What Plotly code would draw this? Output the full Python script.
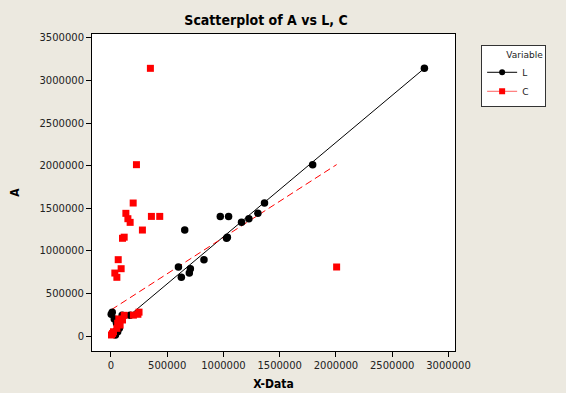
import numpy as np
import plotly.graph_objects as go

# Observations: response A with predictors L and C
A_vals = [3142000, 2011000, 1561000, 1440000, 1377000, 1334000, 1404000, 1404000,
          1244000, 1147000, 1160000, 896000, 810000, 790000, 739000, 689000,
          280000, 255000, 245000, 243000, 188000, 129000, 90000, 50000, 12000,
          30000, 150000, 200000]
L_vals = [2786000, 1793000, 1365000, 1306000, 1226000, 1161000, 972000, 1046000,
          656000, 1028000, 1035000, 827000, 600000, 706000, 697000, 626000,
          12000, 3000, 170000, 100000, 60000, 70000, 75000, 60000, 40000,
          20000, 50000, 30000]
C_vals = [351000, 227000, 198000, 133000, 151000, 171000, 360000, 434000,
          280000, 103000, 118000, 65000, 2006000, 91000, 35000, 53000,
          250000, 240000, 200000, 118000, 103000, 82000, 53000, 23000, 5000,
          15000, 60000, 70000]

# Fitted lines as drawn in the chart (intercept, slope)
L_fit = [59000, 1.1066]
C_fit = [305000, 0.851]

x_ticks = [0, 500000, 1000000, 1500000, 2000000, 2500000, 3000000]
y_ticks = [0, 500000, 1000000, 1500000, 2000000, 2500000, 3000000, 3500000]

A = np.array(A_vals, float)
L = np.array(L_vals, float)
C = np.array(C_vals, float)

def line_over(x, coef):
    xs = np.array([x.min(), x.max()])
    return xs, coef[0] + coef[1] * xs

fig = go.Figure()
lx, ly = line_over(L, L_fit)
cx, cy = line_over(C, C_fit)
fig.add_trace(go.Scatter(x=lx, y=ly, mode="lines", line=dict(color="black", width=1),
                         showlegend=False, hoverinfo="skip"))
fig.add_trace(go.Scatter(x=cx, y=cy, mode="lines",
                         line=dict(color="#FF0000", width=1, dash="7px,4px"),
                         showlegend=False, hoverinfo="skip"))
fig.add_trace(go.Scatter(x=L, y=A, mode="markers", name="L",
                         marker=dict(symbol="circle", size=7.5, color="black"),
                         showlegend=False))
fig.add_trace(go.Scatter(x=C, y=A, mode="markers", name="C",
                         marker=dict(symbol="square", size=7, color="#FF0000"),
                         showlegend=False))
# legend entries (line + marker); trailing spaces widen the legend box
pad = "&nbsp;" * 4
fig.add_trace(go.Scatter(x=[None], y=[None], mode="lines+markers", name="L" + pad,
                         line=dict(color="black", width=1),
                         marker=dict(symbol="circle", size=6, color="black")))
fig.add_trace(go.Scatter(x=[None], y=[None], mode="lines+markers", name="C" + pad,
                         line=dict(color="#FF6060", width=1),
                         marker=dict(symbol="square", size=6, color="#FF0000")))

bg = "#ECE9E0"
fig.update_layout(
    width=566, height=393,
    paper_bgcolor=bg, plot_bgcolor="white",
    margin=dict(l=92, r=111, t=34, b=42),
    font=dict(family="DejaVu Sans", size=10, color="#222"),
    title=dict(text="<b>Scatterplot of A vs L, C</b>", x=0.47, xanchor="center",
               y=0.949, yanchor="middle",
               font=dict(family="DejaVu Sans Condensed, DejaVu Sans", size=14, color="black")),
    xaxis=dict(range=[-168000, 3058000], tickvals=x_ticks, ticktext=[str(v) for v in x_ticks],
               showgrid=False, zeroline=False, showline=True, linecolor="black", linewidth=1,
               mirror=True, ticks="outside", ticklen=5, tickcolor="black", automargin=False,
               title=dict(text="<b>X-Data</b>", standoff=9,
                          font=dict(family="DejaVu Sans Condensed, DejaVu Sans", size=12, color="black"))),
    yaxis=dict(range=[-176000, 3545000], tickvals=y_ticks, ticktext=[str(v) for v in y_ticks],
               showgrid=False, zeroline=False, showline=True, linecolor="black", linewidth=1,
               mirror=True, ticks="outside", ticklen=5, tickcolor="black", automargin=False,
               title=dict(text="<b>A</b>", standoff=17,
                          font=dict(family="DejaVu Sans Condensed, DejaVu Sans", size=12, color="black"))),
    legend=dict(x=1.072, y=0.965, xanchor="left", yanchor="top",
                bgcolor="white", bordercolor="#333", borderwidth=1,
                title=dict(text="Variable", side="top right", font=dict(size=9)),
                font=dict(size=9, color="#222"), itemwidth=30, tracegroupgap=0),
)
fig.write_html("out.html", post_script="document.body.style.margin='0';",
               config={"displayModeBar": False})
